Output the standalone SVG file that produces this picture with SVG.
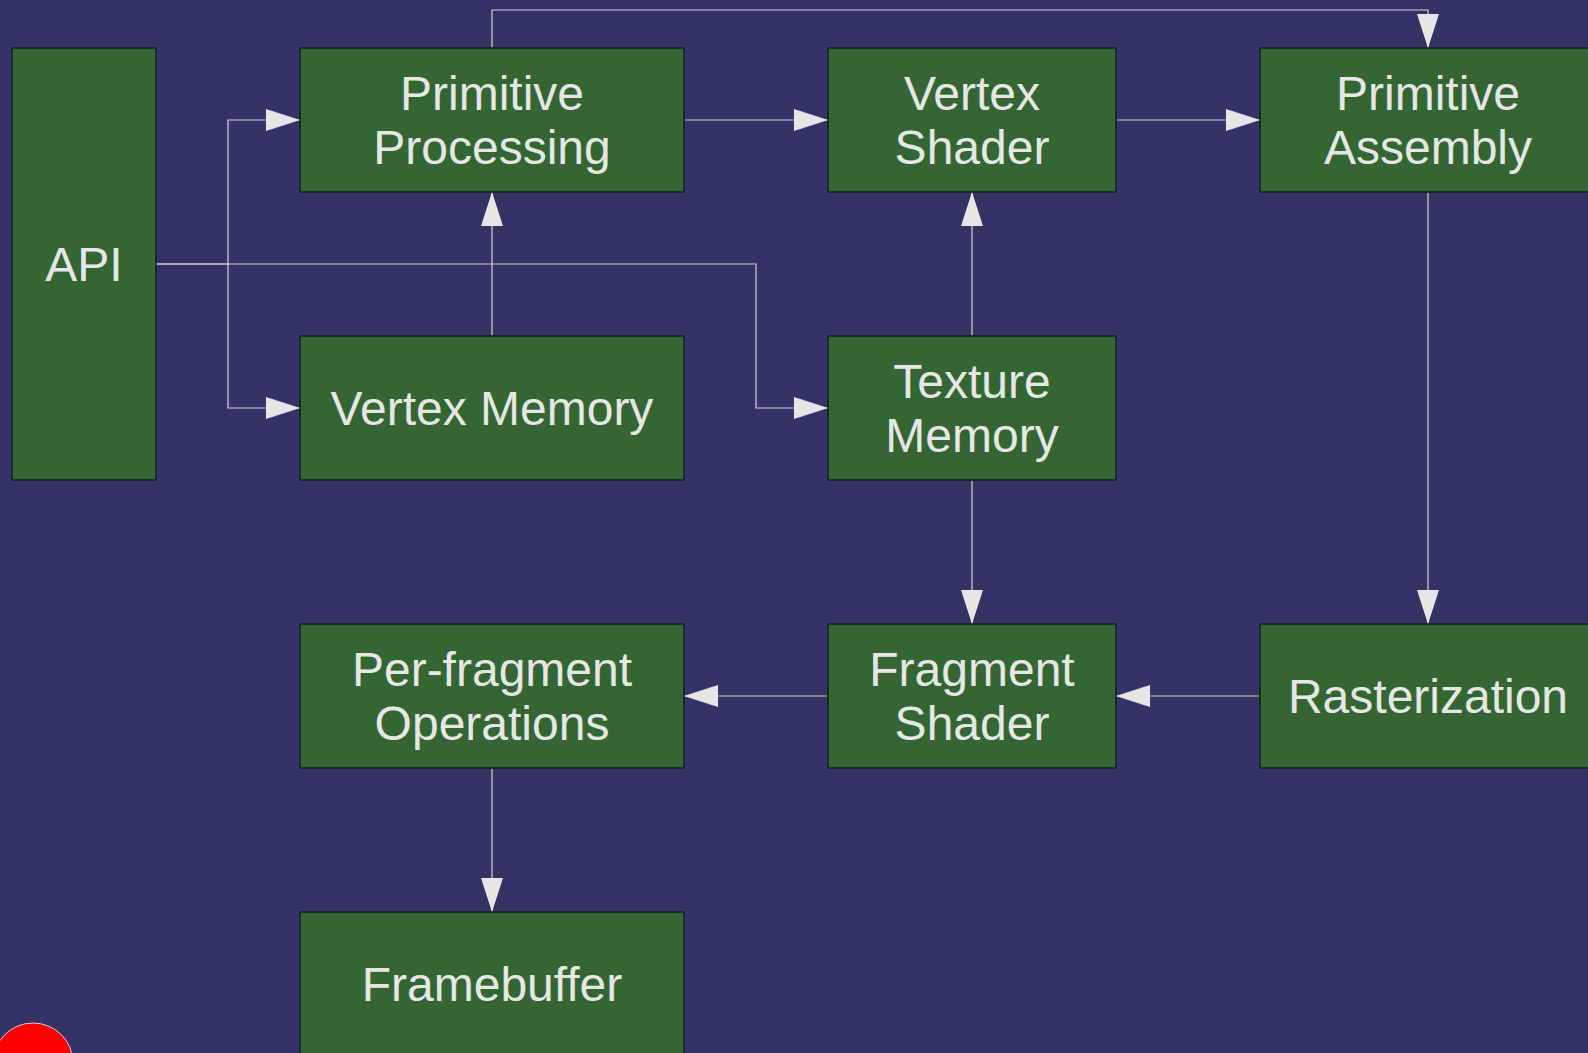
<svg xmlns="http://www.w3.org/2000/svg" width="1588" height="1053" viewBox="0 0 1588 1053">
  <style>
    .node rect { fill: #336633; stroke: #1a1a1a; stroke-width: 1.5; }
    .node text { fill: #e6e6e6; font-family: "Liberation Sans", Arial, sans-serif; font-size: 48px; text-anchor: middle; }
    .edge { fill: none; stroke: #d2d2d8; stroke-width: 1.2; marker-end: url(#arrow); }
  </style>
  <defs>
    <marker id="arrow" markerUnits="userSpaceOnUse" markerWidth="34" markerHeight="22" refX="34" refY="11" orient="auto" overflow="visible">
      <path d="M0,0 L34,11 L0,22 Z" fill="#e6e6e6"/>
    </marker>
  </defs>

  <rect width="1588" height="1053" fill="#333366"/>

  <!-- connectors -->
  <g id="connectors">
    <path class="edge" d="M156,264 H228 V120 H300"/>
    <path class="edge" d="M228,264 V408 H300"/>
    <path class="edge" d="M156,264 H756 V408 H828"/>
    <path class="edge" d="M684,120 H828"/>
    <path class="edge" d="M1116,120 H1260"/>
    <path class="edge" d="M492,48 V10 H1428 V48"/>
    <path class="edge" d="M492,336 V192"/>
    <path class="edge" d="M972,336 V192"/>
    <path class="edge" d="M972,480 V624"/>
    <path class="edge" d="M1428,192 V624"/>
    <path class="edge" d="M1260,696 H1116"/>
    <path class="edge" d="M828,696 H684"/>
    <path class="edge" d="M492,768 V912"/>
  </g>

  <!-- nodes -->
  <g id="api" class="node">
    <rect x="12" y="48" width="144" height="432"/>
    <text x="84" y="281">API</text>
  </g>
  <g id="primitive-processing" class="node">
    <rect x="300" y="48" width="384" height="144"/>
    <text x="492" y="110">Primitive</text>
    <text x="492" y="164">Processing</text>
  </g>
  <g id="vertex-shader" class="node">
    <rect x="828" y="48" width="288" height="144"/>
    <text x="972" y="110">Vertex</text>
    <text x="972" y="164">Shader</text>
  </g>
  <g id="primitive-assembly" class="node">
    <rect x="1260" y="48" width="336" height="144"/>
    <text x="1428" y="110">Primitive</text>
    <text x="1428" y="164">Assembly</text>
  </g>
  <g id="vertex-memory" class="node">
    <rect x="300" y="336" width="384" height="144"/>
    <text x="492" y="425">Vertex Memory</text>
  </g>
  <g id="texture-memory" class="node">
    <rect x="828" y="336" width="288" height="144"/>
    <text x="972" y="398">Texture</text>
    <text x="972" y="452">Memory</text>
  </g>
  <g id="per-fragment-operations" class="node">
    <rect x="300" y="624" width="384" height="144"/>
    <text x="492" y="686">Per-fragment</text>
    <text x="492" y="740">Operations</text>
  </g>
  <g id="fragment-shader" class="node">
    <rect x="828" y="624" width="288" height="144"/>
    <text x="972" y="686">Fragment</text>
    <text x="972" y="740">Shader</text>
  </g>
  <g id="rasterization" class="node">
    <rect x="1260" y="624" width="336" height="144"/>
    <text x="1428" y="713">Rasterization</text>
  </g>
  <g id="framebuffer" class="node">
    <rect x="300" y="912" width="384" height="144"/>
    <text x="492" y="1001">Framebuffer</text>
  </g>

  <!-- corner marker -->
  <circle cx="33" cy="1063" r="40" fill="#ff0000" stroke="#e6c8d0" stroke-width="1"/>
</svg>
